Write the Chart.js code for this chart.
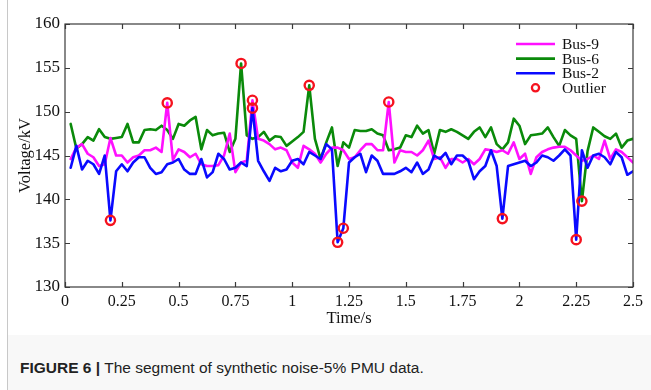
<!DOCTYPE html>
<html>
<head>
<meta charset="utf-8">
<script src="https://cdn.jsdelivr.net/npm/chart.js@4/dist/chart.umd.min.js"></script>
<style>
  html, body { margin: 0; padding: 0; background: #fff; }
  #wrap { position: relative; width: 651px; height: 390px; overflow: hidden; }
  #edge { position: absolute; left: 7px; top: 0; width: 1px; height: 390px; background: #c8c8c8; }
  #cap { position: absolute; left: 8px; top: 335px; width: 643px; height: 55px; background: #f8f8f8;
         font-family: "Liberation Sans", Arial, sans-serif; font-size: 15.5px; color: #222; }
  #cap span.t { position: absolute; left: 12px; top: 24px; white-space: nowrap; }
  #cap b { font-weight: bold; }
  canvas { position: absolute; left: 0; top: 0; }
</style>
</head>
<body>
<div id="wrap">
  <canvas id="myChart" width="651" height="335"></canvas>
  <div id="edge"></div>
  <div id="cap"><span class="t"><b>FIGURE 6 |</b> The segment of synthetic noise-5% PMU data.</span></div>
</div>
<script>
// sample step 0.025 s, 100 samples
const times = Array.from({ length: 100 }, (_, i) => +(0.025 * (i + 1)).toFixed(3))

const bus9 = [
  144.6, 145.9, 146.3, 145.2, 144.8, 143.8, 144.0, 147.0, 145.0, 145.0,
  144.2, 144.8, 145.0, 145.6, 145.6, 145.9, 145.4, 151.0, 144.5, 145.7,
  145.4, 144.8, 145.2, 144.0, 143.8, 143.8, 143.9, 145.0, 147.5, 143.1,
  144.2, 144.4, 151.3, 146.9, 146.7, 146.3, 145.7, 145.9, 145.6, 144.2,
  143.6, 146.1, 145.7, 145.2, 144.2, 145.2, 145.9, 145.9, 145.6, 144.6,
  144.8, 145.6, 146.3, 146.3, 145.6, 145.6, 151.1, 144.2, 145.6, 145.4,
  145.4, 145.0, 145.6, 146.7, 144.6, 144.8, 143.6, 144.6, 144.6, 144.2,
  144.6, 144.0, 144.6, 145.7, 145.6, 145.4, 145.6, 145.2, 146.5, 144.6,
  145.2, 142.9, 144.8, 145.4, 145.7, 145.9, 146.0, 146.0, 145.6, 145.0,
  144.4, 144.6, 145.0, 144.6, 146.7, 144.6, 145.7, 145.4, 144.8, 144.2
]

const bus6 = [
  148.6, 145.8, 146.3, 147.1, 146.7, 148.0, 147.1, 146.9, 147.0, 147.1,
  148.6, 146.5, 146.5, 147.9, 148.0, 147.9, 148.4, 147.9, 146.9, 148.6,
  148.4, 149.0, 149.4, 145.7, 147.9, 147.3, 147.5, 147.6, 145.4, 146.9,
  155.5, 147.3, 146.9, 147.1, 147.7, 146.7, 147.2, 147.1, 146.1, 146.6,
  147.1, 147.7, 153.0, 146.9, 144.6, 146.5, 148.2, 143.8, 146.5, 145.9,
  147.9, 147.8, 147.8, 148.0, 147.5, 147.3, 145.6, 145.7, 145.9, 147.3,
  147.1, 148.4, 147.5, 147.9, 145.2, 147.9, 147.7, 148.0, 147.7, 147.3,
  146.9, 147.7, 148.2, 147.1, 148.2, 146.3, 145.7, 146.5, 149.2, 148.4,
  146.3, 147.3, 147.4, 147.5, 148.2, 147.1, 146.1, 147.9, 147.3, 146.9,
  139.8, 145.5, 148.2, 147.7, 147.2, 146.9, 147.5, 145.9, 146.7, 146.9
]

const bus2 = [
  143.6, 146.1, 143.4, 144.4, 144.0, 142.9, 145.0, 137.6, 143.2, 144.0,
  143.2, 144.2, 144.8, 144.8, 143.6, 142.9, 143.1, 144.0, 144.2, 144.6,
  143.4, 142.9, 142.9, 144.6, 142.5, 143.1, 145.2, 144.6, 143.4, 143.6,
  144.2, 143.8, 150.4, 144.4, 143.2, 142.1, 143.6, 143.2, 143.4, 144.4,
  144.6, 144.0, 145.4, 145.0, 144.6, 146.3, 145.7, 135.1, 136.7, 144.2,
  144.8, 145.2, 143.1, 145.0, 144.4, 142.9, 142.9, 142.9, 143.2, 143.6,
  143.1, 144.2, 142.9, 143.4, 145.0, 144.6, 145.3, 144.0, 145.0, 145.0,
  144.4, 142.3, 143.2, 143.8, 145.6, 143.8, 137.8, 143.8, 144.0, 144.2,
  144.4, 143.8, 144.2, 145.0, 144.8, 144.4, 145.0, 145.7, 145.0, 135.4,
  145.6, 143.6, 145.0, 145.2, 144.8, 144.0, 145.4, 144.8, 142.8, 143.2
]

// sample indices flagged as outliers in each series
const outliers9 = [17, 32, 56]
const outliers6 = [30, 42, 90]
const outliers2 = [7, 32, 47, 48, 76, 89]

const yTicks = [130, 135, 140, 145, 150, 155, 160]
const xTicks = [0, 0.25, 0.5, 0.75, 1, 1.25, 1.5, 1.75, 2, 2.25, 2.5]

const toPts = vals => vals.map((v, i) => ({ x: times[i], y: v }))
const pick = (vals, idx) => idx.map(i => ({ x: times[i], y: vals[i] }))
const outlierPts = [...pick(bus9, outliers9), ...pick(bus6, outliers6), ...pick(bus2, outliers2)]

const serif = '"Liberation Serif", "Times New Roman", serif'

const frame = {
  id: 'frame',
  afterDraw(chart) {
    const { ctx, chartArea: a, scales } = chart
    ctx.save()
    ctx.strokeStyle = '#3a3a3a'
    ctx.lineWidth = 1.2
    ctx.strokeRect(a.left, a.top, a.right - a.left, a.bottom - a.top)
    const t = 5
    ctx.beginPath()
    xTicks.forEach(v => {
      const x = Math.round(scales.x.getPixelForValue(v)) + 0.5
      ctx.moveTo(x, a.bottom); ctx.lineTo(x, a.bottom - t)
      ctx.moveTo(x, a.top); ctx.lineTo(x, a.top + t)
    })
    yTicks.forEach(v => {
      const y = Math.round(scales.y.getPixelForValue(v)) + 0.5
      ctx.moveTo(a.left, y); ctx.lineTo(a.left + t, y)
      ctx.moveTo(a.right, y); ctx.lineTo(a.right - t, y)
    })
    ctx.stroke()

    // legend, top right inside the axes
    const order = [2, 3, 1, 0]
    const x0 = a.right - 117, x1 = a.right - 78, tx = a.right - 71
    ctx.font = '15.5px ' + serif
    ctx.textBaseline = 'middle'
    ctx.fillStyle = '#111'
    order.forEach((di, n) => {
      const ds = chart.data.datasets[di]
      const y = a.top + 20 + n * 14.6
      if (ds.showLine === false) {
        ctx.beginPath()
        ctx.arc((x0 + x1) / 2, y, 3.6, 0, Math.PI * 2)
        ctx.strokeStyle = ds.pointBorderColor
        ctx.lineWidth = 2.3
        ctx.stroke()
      } else {
        ctx.beginPath()
        ctx.moveTo(x0, y); ctx.lineTo(x1, y)
        ctx.strokeStyle = ds.borderColor
        ctx.lineWidth = 2.6
        ctx.stroke()
      }
      ctx.fillText(ds.label, tx, y + 1)
    })
    ctx.restore()
  }
}

const ctx = document.getElementById('myChart')

const myChart = new Chart(ctx, {
  type: 'line',
  plugins: [frame],
  options: {
    responsive: false,
    animation: false,
    devicePixelRatio: 1,
    layout: { padding: { left: 0, right: 18, top: 24, bottom: 0 } },
    plugins: { legend: { display: false }, tooltip: { enabled: false } },
    elements: { point: { radius: 0 }, line: { tension: 0, borderJoinStyle: 'round', borderCapStyle: 'round' } },
    scales: {
      x: {
        type: 'linear', min: 0, max: 2.5,
        afterFit: s => { s.height = 48 },
        afterBuildTicks: s => { s.ticks = xTicks.map(v => ({ value: v })) },
        grid: { display: false, drawTicks: false },
        border: { display: false },
        ticks: { color: '#111', padding: 5, font: { family: serif, size: 16 }, maxRotation: 0, callback: v => String(+v) },
        title: { display: true, text: 'Time/s', color: '#111', font: { family: serif, size: 16.5 }, padding: { top: 0, bottom: 6 } }
      },
      y: {
        min: 130, max: 160,
        afterFit: s => { s.width = 65 },
        afterBuildTicks: s => { s.ticks = yTicks.map(v => ({ value: v })) },
        grid: { display: false, drawTicks: false },
        border: { display: false },
        ticks: { color: '#111', padding: 5, font: { family: serif, size: 17 } },
        title: { display: true, text: 'Voltage/kV', color: '#111', font: { family: serif, size: 16.5 }, padding: { top: 16, bottom: 0 } }
      }
    }
  },
  data: {
    datasets: [
      {
        label: 'Outlier',
        data: outlierPts,
        showLine: false,
        pointRadius: 4.6,
        pointBorderWidth: 2.4,
        pointBorderColor: '#f5121e',
        pointBackgroundColor: 'rgba(0,0,0,0)'
      },
      { label: 'Bus-2', data: toPts(bus2), borderColor: '#0a0aff', borderWidth: 2.6 },
      { label: 'Bus-9', data: toPts(bus9), borderColor: '#ff10ff', borderWidth: 2.6 },
      { label: 'Bus-6', data: toPts(bus6), borderColor: '#0a8a0a', borderWidth: 2.6 }
    ]
  }
})
</script>
</body>
</html>
